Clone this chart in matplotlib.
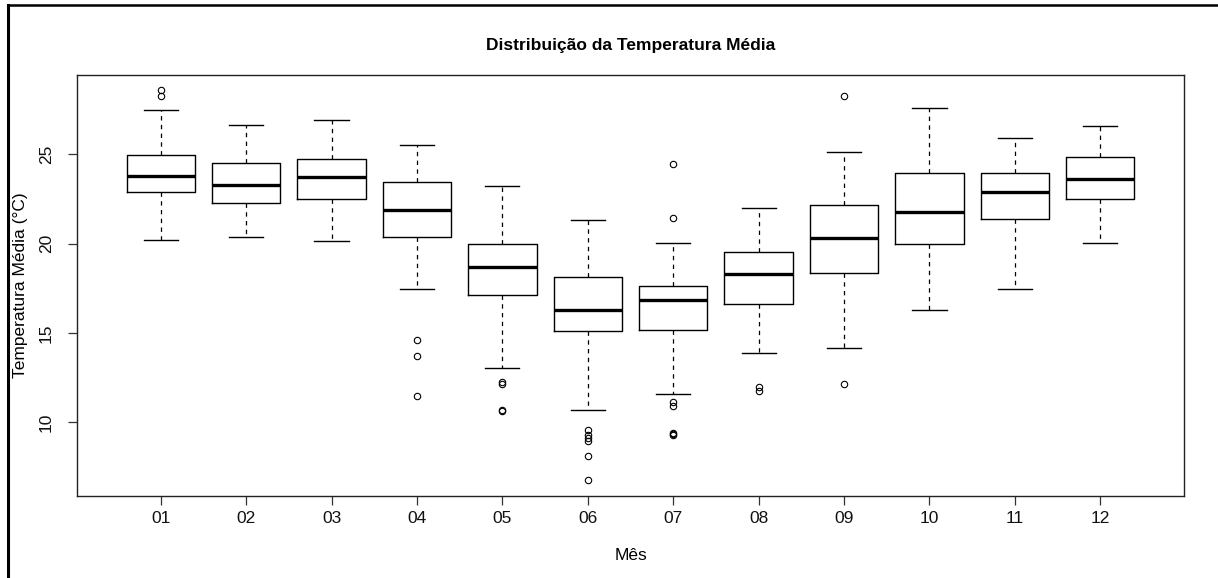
import matplotlib
matplotlib.use("Agg")
import matplotlib.pyplot as plt
from matplotlib.lines import Line2D

plt.rcParams['font.family'] = ['Liberation Sans', 'DejaVu Sans']

# Data
meses = ["01", "02", "03", "04", "05", "06", "07", "08", "09", "10", "11", "12"]
whis_lo = [20.19, 20.35, 20.13, 17.46, 13.05, 10.66, 11.61, 13.86, 14.18, 16.31, 17.49, 20.04]
q1      = [22.88, 22.29, 22.49, 20.39, 17.12, 15.11, 15.15, 16.61, 18.37, 20.00, 21.39, 22.49]
mediana = [23.82, 23.28, 23.73, 21.89, 18.71, 16.29, 16.85, 18.30, 20.30, 21.80, 22.88, 23.60]
q3      = [24.98, 24.53, 24.74, 23.48, 19.98, 18.16, 17.66, 19.53, 22.19, 23.97, 23.97, 24.83]
whis_hi = [27.47, 26.67, 26.93, 25.51, 23.24, 21.35, 20.04, 22.00, 25.15, 27.62, 25.92, 26.57]
outliers = [
    [28.60, 28.30],
    [],
    [],
    [14.61, 13.71, 11.46],
    [12.25, 12.15, 10.68, 10.62],
    [9.55, 9.27, 9.14, 8.95, 8.13, 6.74],
    [24.48, 21.44, 11.14, 10.90, 9.40, 9.33, 9.27],
    [12.00, 11.75],
    [28.28, 12.17],
    [],
    [],
    [],
]

titulo = "Distribuição da Temperatura Média"
rotulo_x = "Mês"
rotulo_y = "Temperatura Média (°C)"
yticks = [10, 15, 20, 25]

W, H = 1218, 578
fig = plt.figure(figsize=(W / 100, H / 100), dpi=100)
ax = fig.add_axes([77 / W, 1 - 496 / H, (1184 - 77) / W, (496 - 75) / H])

stats = []
for i in range(len(meses)):
    stats.append(dict(med=mediana[i], q1=q1[i], q3=q3[i],
                      whislo=whis_lo[i], whishi=whis_hi[i],
                      fliers=outliers[i], label=meses[i]))

ax.bxp(stats, positions=range(1, len(meses) + 1), widths=0.8,
       showfliers=True, patch_artist=False,
       boxprops=dict(color='black', linewidth=1.0),
       medianprops=dict(color='black', linewidth=2.4, solid_capstyle='butt'),
       whiskerprops=dict(color='black', linewidth=0.9, linestyle=(0, (3.5, 3.5))),
       capprops=dict(color='black', linewidth=1.0),
       capwidths=0.4,
       flierprops=dict(marker='o', markerfacecolor='none', markeredgecolor='black',
                       markersize=4.6, markeredgewidth=0.8, linestyle='none'))

ax.set_xlim(0.02, 12.98)
ax.set_ylim(5.87, 29.45)
ax.set_yticks(yticks)
ax.set_yticklabels([str(t) for t in yticks], rotation=90, va='center')
ax.set_xticks(range(1, len(meses) + 1))
ax.set_xticklabels(meses)

for s in ax.spines.values():
    s.set_color('#222222')
    s.set_linewidth(1.0)

ax.tick_params(axis='both', length=6.5, width=0.9, color='#333333', labelsize=12.5,
               labelcolor='#111111')
ax.tick_params(axis='x', pad=4.5)
ax.tick_params(axis='y', pad=10)

ax.set_title(titulo, fontsize=12.5, fontweight='bold', pad=18)
ax.set_xlabel(rotulo_x, fontsize=12.5, labelpad=16)
ax.set_ylabel(rotulo_y, fontsize=12.5, labelpad=8)

# outer frame (top and left lines)
fig.add_artist(Line2D([8 / W, 1.0], [1 - 5 / H, 1 - 5 / H], transform=fig.transFigure,
                      color='black', linewidth=1.8))
fig.add_artist(Line2D([8 / W, 8 / W], [0.0, 1 - 5 / H], transform=fig.transFigure,
                      color='black', linewidth=2.2))

fig.savefig("out.png", dpi=100)
